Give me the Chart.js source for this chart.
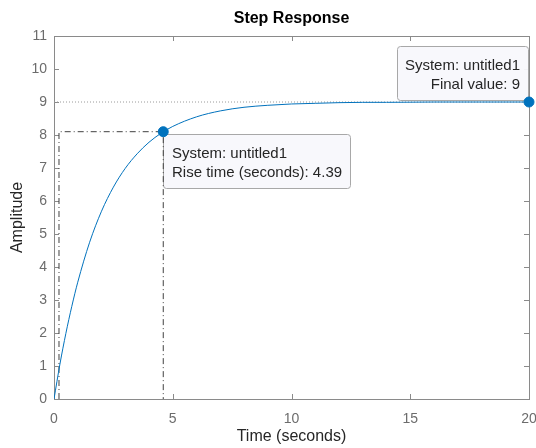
<!DOCTYPE html>
<html>
<head>
<meta charset="utf-8">
<script src="https://cdn.jsdelivr.net/npm/chart.js@4/dist/chart.umd.min.js"></script>
<style>
  html, body { margin: 0; padding: 0; background: #fff; }
  canvas { display: block; }
</style>
</head>
<body>
<canvas id="stepChart" width="536" height="448"></canvas>
<script>
// step response samples (time in seconds, amplitude)
const timeValues = [0, 0.25, 0.5, 0.75, 1, 1.5, 2, 2.5, 3, 3.5, 4, 4.5, 5, 6, 7, 8, 9, 10, 11, 12, 13, 14, 16, 18, 20];
const ampValues  = [0, 1.06, 1.99, 2.81, 3.54, 4.75, 5.69, 6.42, 6.99, 7.43, 7.78, 8.05, 8.26, 8.55, 8.73, 8.84, 8.90, 8.94, 8.96, 8.98, 8.99, 8.99, 9.00, 9.00, 9.00];

const xTicks = [0, 5, 10, 15, 20];
const yTicks = [0, 1, 2, 3, 4, 5, 6, 7, 8, 9, 10, 11];

// characteristics
const finalValue = 9;
const riseStart = 0.21;
const riseTime = 4.39;
const riseEnd = 4.60;
const riseLevel = 8.1;
const tEnd = 20;

const blue = '#0072BD';
const font = '"Liberation Sans", Arial, sans-serif';
const toPts = (xs, ys) => xs.map((x, i) => ({ x: x, y: ys[i] }));

// box, inward ticks and data tips
const matlabAxes = {
  id: 'matlabAxes',
  beforeDatasetsDraw(chart) {
    const { ctx, chartArea: a, scales } = chart;
    const sx = scales.x, sy = scales.y;
    ctx.save();
    ctx.strokeStyle = '#8a8a8a';
    ctx.lineWidth = 1;
    ctx.strokeRect(Math.round(a.left) + 0.5, Math.round(a.top) + 0.5, Math.round(a.right - a.left), Math.round(a.bottom - a.top));
    ctx.beginPath();
    xTicks.forEach(v => {
      const px = Math.round(sx.getPixelForValue(v)) + 0.5;
      ctx.moveTo(px, a.bottom); ctx.lineTo(px, a.bottom - 5);
      ctx.moveTo(px, a.top); ctx.lineTo(px, a.top + 5);
    });
    yTicks.forEach(v => {
      const py = Math.round(sy.getPixelForValue(v)) + 0.5;
      ctx.moveTo(a.left, py); ctx.lineTo(a.left + 5, py);
      ctx.moveTo(a.right, py); ctx.lineTo(a.right - 5, py);
    });
    ctx.stroke();

    const tip = (x, y, w, h, lines, align) => {
      ctx.fillStyle = 'rgba(248,248,252,0.95)';
      ctx.strokeStyle = '#a8a8a8';
      ctx.beginPath();
      ctx.roundRect(x + 0.5, y + 0.5, w, h, 3);
      ctx.fill();
      ctx.stroke();
      ctx.fillStyle = '#262626';
      ctx.font = '15px ' + font;
      ctx.textBaseline = 'middle';
      ctx.textAlign = align;
      lines.forEach((t, i) => {
        ctx.fillText(t, align === 'left' ? x + 9 : x + w - 8, y + 20 + i * 19);
      });
    };

    const rx = sx.getPixelForValue(riseEnd), ry = sy.getPixelForValue(riseLevel);
    tip(Math.round(rx), Math.round(ry) + 2, 187, 54,
      ['System: untitled1', 'Rise time (seconds): ' + riseTime.toFixed(2)], 'left');

    const fx = sx.getPixelForValue(tEnd), fy = sy.getPixelForValue(finalValue);
    tip(Math.round(fx) - 132, Math.round(fy) - 56, 131, 54,
      ['System: untitled1', 'Final value: ' + finalValue], 'right');
    ctx.restore();
  }
};

const dashDot = [6, 3, 1, 3];

new Chart(document.getElementById('stepChart'), {
  type: 'line',
  data: {
    datasets: [
      {
        data: [{ x: 0, y: finalValue }, { x: tEnd, y: finalValue }],
        borderColor: '#9a9a9a', borderWidth: 1, borderDash: [1, 2],
        pointRadius: 0, order: 5
      },
      {
        data: [{ x: riseStart, y: 0 }, { x: riseStart, y: riseLevel }, { x: riseEnd, y: riseLevel }, { x: riseEnd, y: 0 }],
        borderColor: '#404040', borderWidth: 1, borderDash: dashDot,
        pointRadius: 0, order: 4
      },
      {
        data: toPts(timeValues, ampValues),
        borderColor: blue, borderWidth: 1,
        cubicInterpolationMode: 'monotone',
        pointRadius: 0, order: 2
      },
      {
        data: [{ x: riseEnd, y: riseLevel }, { x: tEnd, y: finalValue }],
        showLine: false, clip: false,
        pointRadius: 5, pointBackgroundColor: blue, pointBorderColor: blue,
        order: 1
      }
    ]
  },
  options: {
    responsive: false,
    animation: false,
    layout: { padding: { left: 0, right: 7, top: 0, bottom: 0 } },
    plugins: {
      legend: { display: false },
      tooltip: { enabled: false },
      title: {
        display: true,
        text: 'Step Response',
        fullSize: false,
        color: '#000',
        font: { family: font, size: 16, weight: 'bold' },
        padding: { top: 9, bottom: 7.8 }
      }
    },
    scales: {
      x: {
        type: 'linear', min: 0, max: 20,
        afterFit(s) { s.height = 49; s.paddingLeft = 0; s.paddingRight = 0; },
        afterBuildTicks(s) { s.ticks = xTicks.map(v => ({ value: v })); },
        grid: { display: false, drawTicks: false },
        border: { display: false },
        ticks: {
          color: '#6c6c6c', padding: 12,
          font: { family: font, size: 14 }
        },
        title: {
          display: true, text: 'Time (seconds)', color: '#262626',
          font: { family: font, size: 16 },
          padding: { top: 0, bottom: 2 }
        }
      },
      y: {
        type: 'linear', min: 0, max: 11,
        afterFit(s) { s.width = 54; },
        afterBuildTicks(s) { s.ticks = yTicks.map(v => ({ value: v })); },
        grid: { display: false, drawTicks: false },
        border: { display: false },
        ticks: {
          color: '#6c6c6c', padding: 7,
          font: { family: font, size: 14 }
        },
        title: {
          display: true, text: 'Amplitude', color: '#262626',
          font: { family: font, size: 16 },
          padding: { top: 8, bottom: 0 }
        }
      }
    }
  },
  plugins: [matlabAxes]
});
</script>
</body>
</html>
